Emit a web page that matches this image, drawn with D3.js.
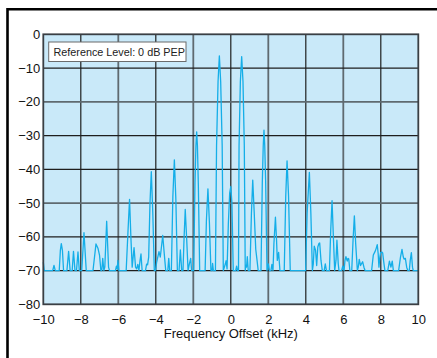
<!DOCTYPE html>
<html><head><meta charset="utf-8">
<script src="https://cdn.jsdelivr.net/npm/d3@7"></script>
<style>
html,body{margin:0;padding:0;background:#fff;}
svg{display:block;font-family:"Liberation Sans",Arial,Helvetica,sans-serif;}
</style></head>
<body>
<svg id="chart" width="437" height="358"></svg>
<script>
// ---- data ----
const xTicks = [-10,-8,-6,-4,-2,0,2,4,6,8,10];
const yTicks = [0,-10,-20,-30,-40,-50,-60,-70,-80];
const xLabel = "Frequency Offset (kHz)";
const refLabel = "Reference Level: 0 dB PEP";
const freqs = [
-10.00,-9.95,-9.50,-9.43,-9.36,-9.15,-9.09,-9.04,-8.98,-8.92,
-8.74,-8.65,-8.57,-8.46,-8.39,-8.31,-8.23,-8.15,-8.08,-7.95,
-7.83,-7.71,-7.35,-7.19,-7.08,-7.00,-6.93,-6.88,-6.83,-6.77,
-6.72,-6.62,-6.52,-6.47,-6.15,-6.10,-6.06,-6.02,-5.97,-5.58,
-5.48,-5.40,-5.33,-5.26,-5.16,-5.08,-5.02,-4.96,-4.90,-4.84,
-4.79,-4.73,-4.55,-4.49,-4.44,-4.38,-4.31,-4.24,-4.16,-4.08,
-4.02,-3.95,-3.83,-3.76,-3.63,-3.55,-3.47,-3.36,-3.31,-3.26,
-3.17,-3.09,-3.01,-2.93,-2.85,-2.76,-2.69,-2.62,-2.55,-2.49,
-2.43,-2.35,-2.28,-2.21,-2.14,-2.09,-1.98,-1.91,-1.86,-1.82,
-1.78,-1.73,-1.66,-1.37,-1.30,-1.22,-1.14,-1.06,-1.00,-0.97,
-0.93,-0.82,-0.76,-0.68,-0.61,-0.54,-0.46,-0.40,-0.36,-0.29,
-0.25,-0.20,-0.13,-0.06,0.00,0.06,0.13,0.26,0.31,0.36,
0.41,0.44,0.51,0.58,0.65,0.72,0.77,0.80,0.84,0.88,
0.93,1.02,1.10,1.17,1.25,1.33,1.40,1.46,1.61,1.68,
1.73,1.77,1.81,1.86,1.93,2.00,2.06,2.14,2.19,2.25,
2.30,2.38,2.44,2.48,2.55,2.62,2.85,2.93,3.00,3.08,
3.17,3.99,4.07,4.19,4.27,4.35,4.40,4.45,4.52,4.58,
4.64,4.70,4.74,4.81,4.88,4.98,5.04,5.10,5.26,5.33,
5.40,5.47,5.54,5.61,5.66,5.73,5.77,5.91,5.97,6.04,
6.09,6.14,6.21,6.25,6.29,6.35,6.45,6.52,6.59,6.66,
6.75,6.80,6.85,6.92,6.97,7.03,7.10,7.16,7.51,7.60,
7.69,7.75,7.81,7.86,7.90,7.95,7.99,8.05,8.10,8.17,
8.22,8.37,8.46,8.54,8.61,8.67,8.95,9.05,9.13,9.20,
9.24,9.31,9.38,9.44,9.52,9.57,9.63,9.69,9.73,10.00];
const levels = [
-67.5,-70,-70,-68.5,-70,-70,-64,-62,-64,-70,
-70,-64.3,-70,-70,-64.3,-70,-70,-64.5,-70,-70,
-58.8,-70,-70,-62.1,-63.5,-65.5,-70,-70,-66.4,-70,
-69,-55.4,-69,-70,-70,-68.7,-69.5,-67,-70,-70,
-58,-48.9,-60,-69,-63.2,-69,-69.5,-68.2,-70,-67,
-65.1,-70,-70,-68.1,-68.3,-66,-50,-40.7,-53,-70,
-70,-67.4,-64.4,-66,-59.6,-65,-70,-70,-66.4,-70,
-70,-48,-37.2,-49,-70,-70,-63.9,-70,-70,-60,
-51.9,-61,-70,-68,-66.4,-70,-70,-44,-33,-28.9,
-33,-45,-70,-70,-55,-45.8,-56,-70,-70,-67.9,
-70,-70,-33,-14,-6.4,-14,-33,-70,-69.3,-68,
-67.1,-69.5,-56,-47,-45.1,-50,-70,-70,-68.7,-70,
-70,-33,-14,-6.6,-14,-33,-70,-68.4,-69,-65.9,
-70,-70,-53,-43.2,-53,-63.7,-67,-70,-70,-44,
-33,-28.4,-33,-44,-70,-68,-70,-70,-68.2,-70,
-62,-54.2,-61,-67,-64.6,-70,-70,-48,-37.5,-48,
-70,-70,-53,-40.9,-53,-70,-68,-62.8,-64,-68.5,
-63,-62,-61.8,-67,-70,-70,-68,-70,-70,-58,
-49.3,-60,-70,-67,-61,-68,-70,-70,-68.7,-70,
-67,-65.9,-67.2,-66.4,-66.5,-70,-70,-61,-53.8,-62,
-70,-69,-66.7,-68.5,-68,-67.4,-69,-70,-70,-65.4,
-64.4,-63.5,-62.3,-65,-69,-66,-64.7,-64.5,-64.8,-68,
-70,-70,-67.2,-69,-67.2,-70,-70,-66,-63.7,-66,
-66.6,-66.4,-69,-70,-70,-67,-64.7,-69,-70,-70];

// ---- drawing ----
const svg = d3.select("#chart");
const L = 43.3, R = 418.3, T = 34.3, B = 304.3;
const x = d3.scaleLinear().domain([-10,10]).range([L,R]);
const y = d3.scaleLinear().domain([0,-80]).range([T,B]);

// outer frame (left + top)
svg.append("path").attr("d",`M7.5,358V9.3H437`).attr("fill","none")
  .attr("stroke","#000").attr("stroke-width",2.6);

// plot background
svg.append("rect").attr("x",L).attr("y",T).attr("width",R-L).attr("height",B-T)
  .attr("fill","#c9e9f9");

// grid
const greyX = new Set([-6,-2,2,6]);
const greyY = new Set([-20,-50]);
svg.append("g").selectAll("line").data(xTicks.filter(d=>d>-10&&d<10)).join("line")
  .attr("x1",d=>x(d)).attr("x2",d=>x(d)).attr("y1",T).attr("y2",B)
  .attr("stroke",d=>greyX.has(d)?"#5f6a70":"#1e1e1e")
  .attr("stroke-width",d=>greyX.has(d)?1.8:1.2);
svg.append("g").selectAll("line").data(yTicks.filter(d=>d<0&&d>-80)).join("line")
  .attr("x1",L).attr("x2",R).attr("y1",d=>y(d)).attr("y2",d=>y(d))
  .attr("stroke",d=>greyY.has(d)?"#5f6a70":"#1e1e1e")
  .attr("stroke-width",d=>greyY.has(d)?1.8:1.2);

// spectrum line
const pts = freqs.map((f,i)=>[f,levels[i]]);
const line = d3.line().x(d=>x(d[0])).y(d=>y(d[1])).curve(d3.curveLinear);
svg.append("path").datum(pts).attr("d",line).attr("fill","none")
  .attr("stroke","#14aee8").attr("stroke-width",1.3).attr("stroke-linejoin","round");

// plot border
svg.append("rect").attr("x",L).attr("y",T).attr("width",R-L).attr("height",B-T)
  .attr("fill","none").attr("stroke","#3a3f44").attr("stroke-width",1.8);

// axes
const fmt = d3.format("d");
const xAxis = svg.append("g").attr("transform",`translate(0,${B})`)
  .call(d3.axisBottom(x).tickValues(xTicks).tickSize(0).tickPadding(10).tickFormat(fmt));
const yAxis = svg.append("g").attr("transform",`translate(${L},0)`)
  .call(d3.axisLeft(y).tickValues(yTicks).tickSize(0).tickPadding(3).tickFormat(fmt));
[xAxis,yAxis].forEach(g=>{
  g.select(".domain").remove();
  g.selectAll("text").attr("font-size",13).attr("fill","#111")
   .attr("font-family","'Liberation Sans',Arial,sans-serif");
});

// x-axis title
svg.append("text").attr("x",(L+R)/2).attr("y",337.5).attr("text-anchor","middle")
  .attr("font-size",13).attr("fill","#111").text(xLabel);

// reference level box
const box = svg.append("g");
box.append("rect").attr("x",48.7).attr("y",42).attr("width",137.3).attr("height",19.5)
  .attr("fill","#fff").attr("stroke","#6b6b6b").attr("stroke-width",1);
box.append("text").attr("x",53.5).attr("y",55.5).attr("font-size",10.8).attr("fill","#222")
  .text(refLabel);
</script>
</body></html>
